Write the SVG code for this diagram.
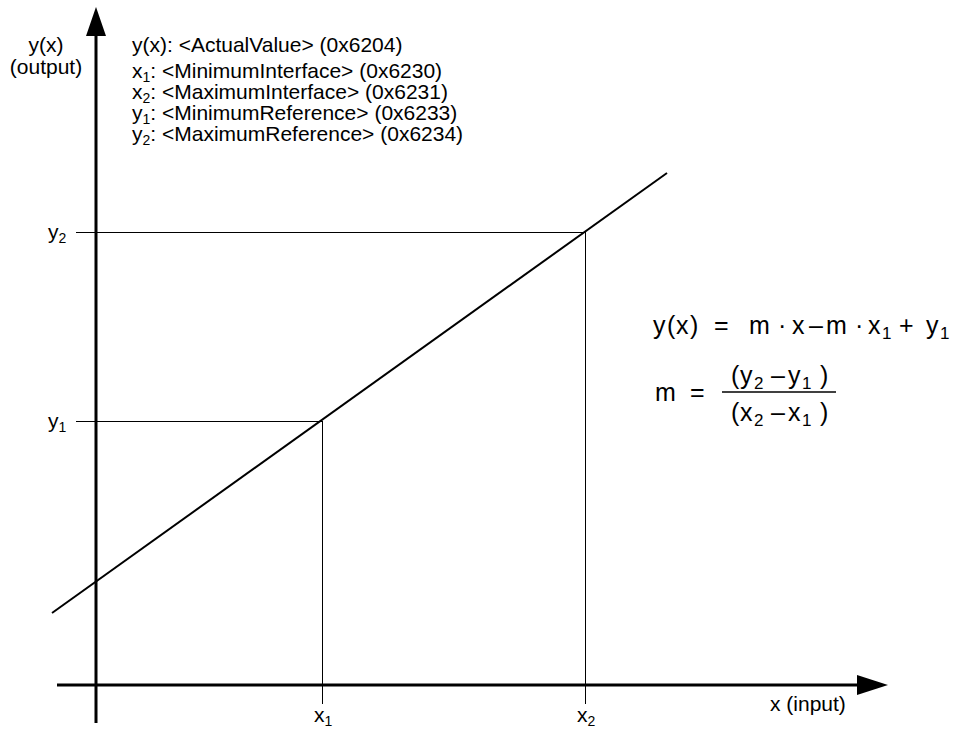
<svg xmlns="http://www.w3.org/2000/svg" width="954" height="733" viewBox="0 0 954 733">
<style>
.t{font-family:"Liberation Sans",Arial,sans-serif;font-size:21px;fill:#000}
.s{font-size:14px}
.f{font-family:"Liberation Sans",Arial,sans-serif;font-size:25px;fill:#000}
.fs{font-size:17px}
.ax{stroke:#000;stroke-width:3;fill:none}
.g{stroke:#000;stroke-width:1;fill:none}
.fn{stroke:#000;stroke-width:2;fill:none}
</style>
<rect width="954" height="733" fill="#fff"/>
<g id="connectors">
<line class="ax" x1="96" y1="723" x2="96" y2="30"/>
<polygon points="96,7 86,36 106,36" fill="#000"/>
<line class="ax" x1="57" y1="685" x2="862" y2="685"/>
<polygon points="888,685 857,675 857,695" fill="#000"/>
<line class="g" x1="76" y1="232.5" x2="585" y2="232.5"/>
<line class="g" x1="76" y1="421.5" x2="322" y2="421.5"/>
<line class="g" x1="322.5" y1="421" x2="322.5" y2="704"/>
<line class="g" x1="585.5" y1="232" x2="585.5" y2="704"/>
<line class="fn" x1="52" y1="613" x2="667" y2="173"/>
</g>
<g id="legend">
<text class="t" x="132" y="52">y(x): &lt;ActualValue&gt; (0x6204)</text>
<text class="t" x="132" y="78">x<tspan class="s" dy="4">1</tspan><tspan dy="-4">: &lt;MinimumInterface&gt; (0x6230)</tspan></text>
<text class="t" x="132" y="99">x<tspan class="s" dy="4">2</tspan><tspan dy="-4">: &lt;MaximumInterface&gt; (0x6231)</tspan></text>
<text class="t" x="132" y="120">y<tspan class="s" dy="4">1</tspan><tspan dy="-4">: &lt;MinimumReference&gt; (0x6233)</tspan></text>
<text class="t" x="132" y="141">y<tspan class="s" dy="4">2</tspan><tspan dy="-4">: &lt;MaximumReference&gt; (0x6234)</tspan></text>
</g>
<g id="axis-labels">
<text class="t" x="46" y="52" text-anchor="middle">y(x)</text>
<text class="t" x="46" y="74" text-anchor="middle">(output)</text>
<text class="t" x="770" y="711">x (input)</text>
<text class="t" x="48" y="239">y<tspan class="s" dy="4">2</tspan></text>
<text class="t" x="48" y="428">y<tspan class="s" dy="4">1</tspan></text>
<text class="t" x="314" y="722">x<tspan class="s" dy="4">1</tspan></text>
<text class="t" x="577" y="722">x<tspan class="s" dy="4">2</tspan></text>
</g>
<g id="formula">
<text class="f" y="334"><tspan x="653">y</tspan><tspan x="667">(</tspan><tspan x="676">x</tspan><tspan x="690">)</tspan><tspan x="714">=</tspan><tspan x="749">m</tspan><tspan x="778">·</tspan><tspan x="792">x</tspan><tspan x="809">–</tspan><tspan x="826">m</tspan><tspan x="855">·</tspan><tspan x="868">x</tspan><tspan class="fs" x="882" dy="5">1</tspan><tspan x="899" dy="-5">+</tspan><tspan x="926">y</tspan><tspan class="fs" x="940" dy="5">1</tspan></text>
<text class="f" y="401"><tspan x="655">m</tspan><tspan x="690">=</tspan></text>
<line x1="722" y1="392" x2="836" y2="392" stroke="#000" stroke-width="1.5"/>
<text class="f" y="384"><tspan x="731">(</tspan><tspan x="740">y</tspan><tspan class="fs" x="754" dy="5">2</tspan><tspan x="771" dy="-5">–</tspan><tspan x="788">y</tspan><tspan class="fs" x="802" dy="5">1</tspan><tspan x="820" dy="-5">)</tspan></text>
<text class="f" y="421"><tspan x="731">(</tspan><tspan x="740">x</tspan><tspan class="fs" x="754" dy="5">2</tspan><tspan x="771" dy="-5">–</tspan><tspan x="788">x</tspan><tspan class="fs" x="802" dy="5">1</tspan><tspan x="820" dy="-5">)</tspan></text>
</g>
</svg>
